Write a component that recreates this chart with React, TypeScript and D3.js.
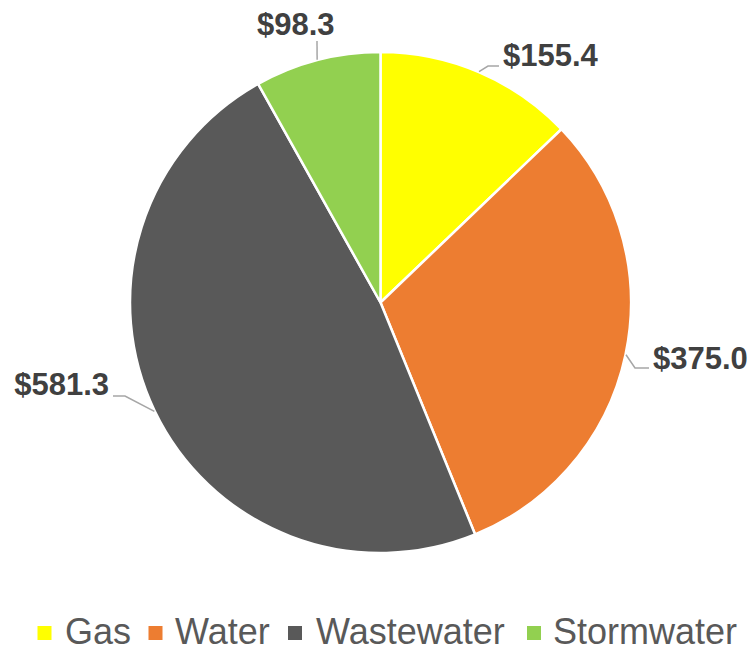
import React from "react";
import * as d3 from "d3";

const categories = ["Gas", "Water", "Wastewater", "Stormwater"];
const values = [155.4, 375.0, 581.3, 98.3];
const colors = ["#FFFF00", "#ED7D31", "#595959", "#92D050"];
const labels = ["$155.4", "$375.0", "$581.3", "$98.3"];

// label layout: text anchor point and elbow of leader line
const labelLayout = [
  { tx: 503, ty: 65.5, anchor: "start", elbow: [488, 66], end: [499, 66] },
  { tx: 653, ty: 368.5, anchor: "start", elbow: [635, 368], end: [649, 368] },
  { tx: 109, ty: 395, anchor: "end", elbow: [125, 396], end: [113, 396] },
  { tx: 257, ty: 35, anchor: "start", elbow: [317, 41], end: [317, 41] },
];

const legendLayout = [
  { sx: 37.5, tx: 65 },
  { sx: 148.5, tx: 175 },
  { sx: 288, tx: 316 },
  { sx: 527, tx: 553 },
];

export default function App() {
  const W = 755, H = 649;
  const cx = 380.5, cy = 302.5, r = 250.5;
  const pie = d3.pie<number>().sort(null).value((d) => d)(values);
  const arc = d3.arc<d3.PieArcDatum<number>>().innerRadius(0).outerRadius(r);

  return (
    <svg width={W} height={H} style={{ position: "absolute", left: 0, top: 0 }}>
      <rect width={W} height={H} fill="#fff" />
      <g transform={`translate(${cx},${cy})`}>
        {pie.map((p, i) => (
          <path key={i} d={arc(p) || ""} fill={colors[i]} stroke="#fff" strokeWidth={2.5} strokeLinejoin="round" />
        ))}
      </g>
      {pie.map((p, i) => {
        const mid = (p.startAngle + p.endAngle) / 2;
        const sx = cx + Math.sin(mid) * (r + 0.5);
        const sy = cy - Math.cos(mid) * (r + 0.5);
        const L = labelLayout[i];
        return (
          <g key={i}>
            <polyline
              points={`${sx},${sy} ${L.elbow[0]},${L.elbow[1]} ${L.end[0]},${L.end[1]}`}
              fill="none"
              stroke="#A6A6A6"
              strokeWidth={1.5}
            />
            <text
              x={L.tx}
              y={L.ty}
              textAnchor={L.anchor as any}
              fontFamily="Liberation Sans, Arial, sans-serif"
              fontWeight="bold"
              fontSize={31}
              fill="#404040"
            >
              {labels[i]}
            </text>
          </g>
        );
      })}
      {categories.map((c, i) => (
        <g key={c}>
          <rect x={legendLayout[i].sx} y={626} width={14} height={14} fill={colors[i]} />
          <text
            x={legendLayout[i].tx}
            y={643.5}
            fontFamily="Liberation Sans, Arial, sans-serif"
            fontSize={36}
            fill="#595959"
          >
            {c}
          </text>
        </g>
      ))}
    </svg>
  );
}
